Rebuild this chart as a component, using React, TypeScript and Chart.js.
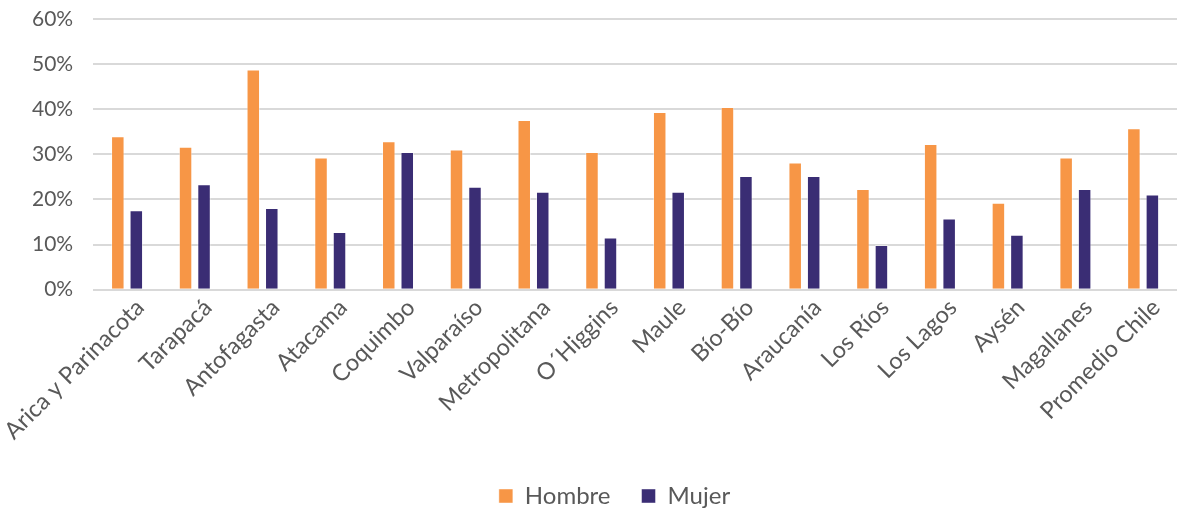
import React, { useEffect, useRef } from "react";
import { Chart, registerables } from "chart.js";

Chart.register(...registerables);

const regiones = [
  "Arica y Parinacota",
  "Tarapacá",
  "Antofagasta",
  "Atacama",
  "Coquimbo",
  "Valparaíso",
  "Metropolitana",
  "O´Higgins",
  "Maule",
  "Bío-Bío",
  "Araucanía",
  "Los Ríos",
  "Los Lagos",
  "Aysén",
  "Magallanes",
  "Promedio Chile",
];

const hombre = [34.0, 31.7, 48.8, 29.3, 32.9, 31.1, 37.6, 30.5, 39.4, 40.5, 28.2, 22.3, 32.3, 19.3, 29.3, 35.8];
const mujer = [17.6, 23.4, 18.1, 12.8, 30.5, 22.8, 21.7, 11.6, 21.7, 25.2, 25.2, 9.9, 15.8, 12.2, 22.3, 21.1];

const yTicks = [0, 10, 20, 30, 40, 50, 60];

const textColor = "#595959";

// nudges the legend row sideways so it sits under the middle of the bars
const legendShift = {
  id: "legendShift",
  afterLayout(chart: any) {
    const lg = chart.legend;
    if (!lg) return;
    lg.left += 20;
    lg.right += 20;
  },
};

// the outer layout padding alone decides where the plot area sits
const noScalePadding = (scale: any) => {
  scale.paddingTop = 0;
  scale.paddingBottom = 0;
  scale.paddingLeft = 0;
  scale.paddingRight = 0;
};

export default function App() {
  const canvasRef = useRef<HTMLCanvasElement | null>(null);

  useEffect(() => {
    if (!canvasRef.current) return;
    const chart = new Chart(canvasRef.current, {
      type: "bar",
      data: {
        labels: regiones,
        datasets: [
          {
            label: "Hombre",
            data: hombre,
            backgroundColor: "#F79646",
            borderColor: "rgba(255,255,255,0.45)",
            borderWidth: 1,
            categoryPercentage: 0.546,
            barPercentage: 0.73,
          },
          {
            label: "Mujer",
            data: mujer,
            backgroundColor: "#3A2D74",
            borderColor: "rgba(255,255,255,0.45)",
            borderWidth: 1,
            categoryPercentage: 0.546,
            barPercentage: 0.73,
          },
        ],
      },
      options: {
        animation: false,
        responsive: true,
        maintainAspectRatio: false,
        layout: { padding: { top: 19, right: 1, bottom: -8, left: 12 } },
        plugins: {
          legend: {
            position: "bottom",
            labels: {
              boxWidth: 14,
              boxHeight: 14,
              padding: 31,
              color: textColor,
              font: { family: "Lato", size: 24 },
            },
          },
          tooltip: { enabled: false },
        },
        scales: {
          x: {
            afterFit: (scale: any) => {
              noScalePadding(scale);
              scale.height += 4;
            },
            grid: { display: false, drawTicks: false },
            border: { display: false },
            ticks: {
              color: textColor,
              font: { family: "Lato", size: 23.5 },
              minRotation: 45,
              maxRotation: 45,
              autoSkip: false,
              labelOffset: 13,
              padding: 4,
            },
          },
          y: {
            min: 0,
            max: 60,
            afterFit: noScalePadding,
            afterBuildTicks: (scale: any) => {
              scale.ticks = yTicks.map((v) => ({ value: v }));
            },
            grid: { color: "#D9D9D9", lineWidth: 2, drawTicks: false },
            border: { display: false },
            ticks: {
              color: textColor,
              font: { family: "Lato", size: 21 },
              padding: 20,
              callback: (v: any) => `${v}%`,
            },
          },
        },
      },
      plugins: [legendShift],
    });
    return () => chart.destroy();
  }, []);

  return (
    <div style={{ position: "fixed", left: 0, top: 0, width: 1178, height: 510, background: "#fff" }}>
      <canvas ref={canvasRef} />
    </div>
  );
}
